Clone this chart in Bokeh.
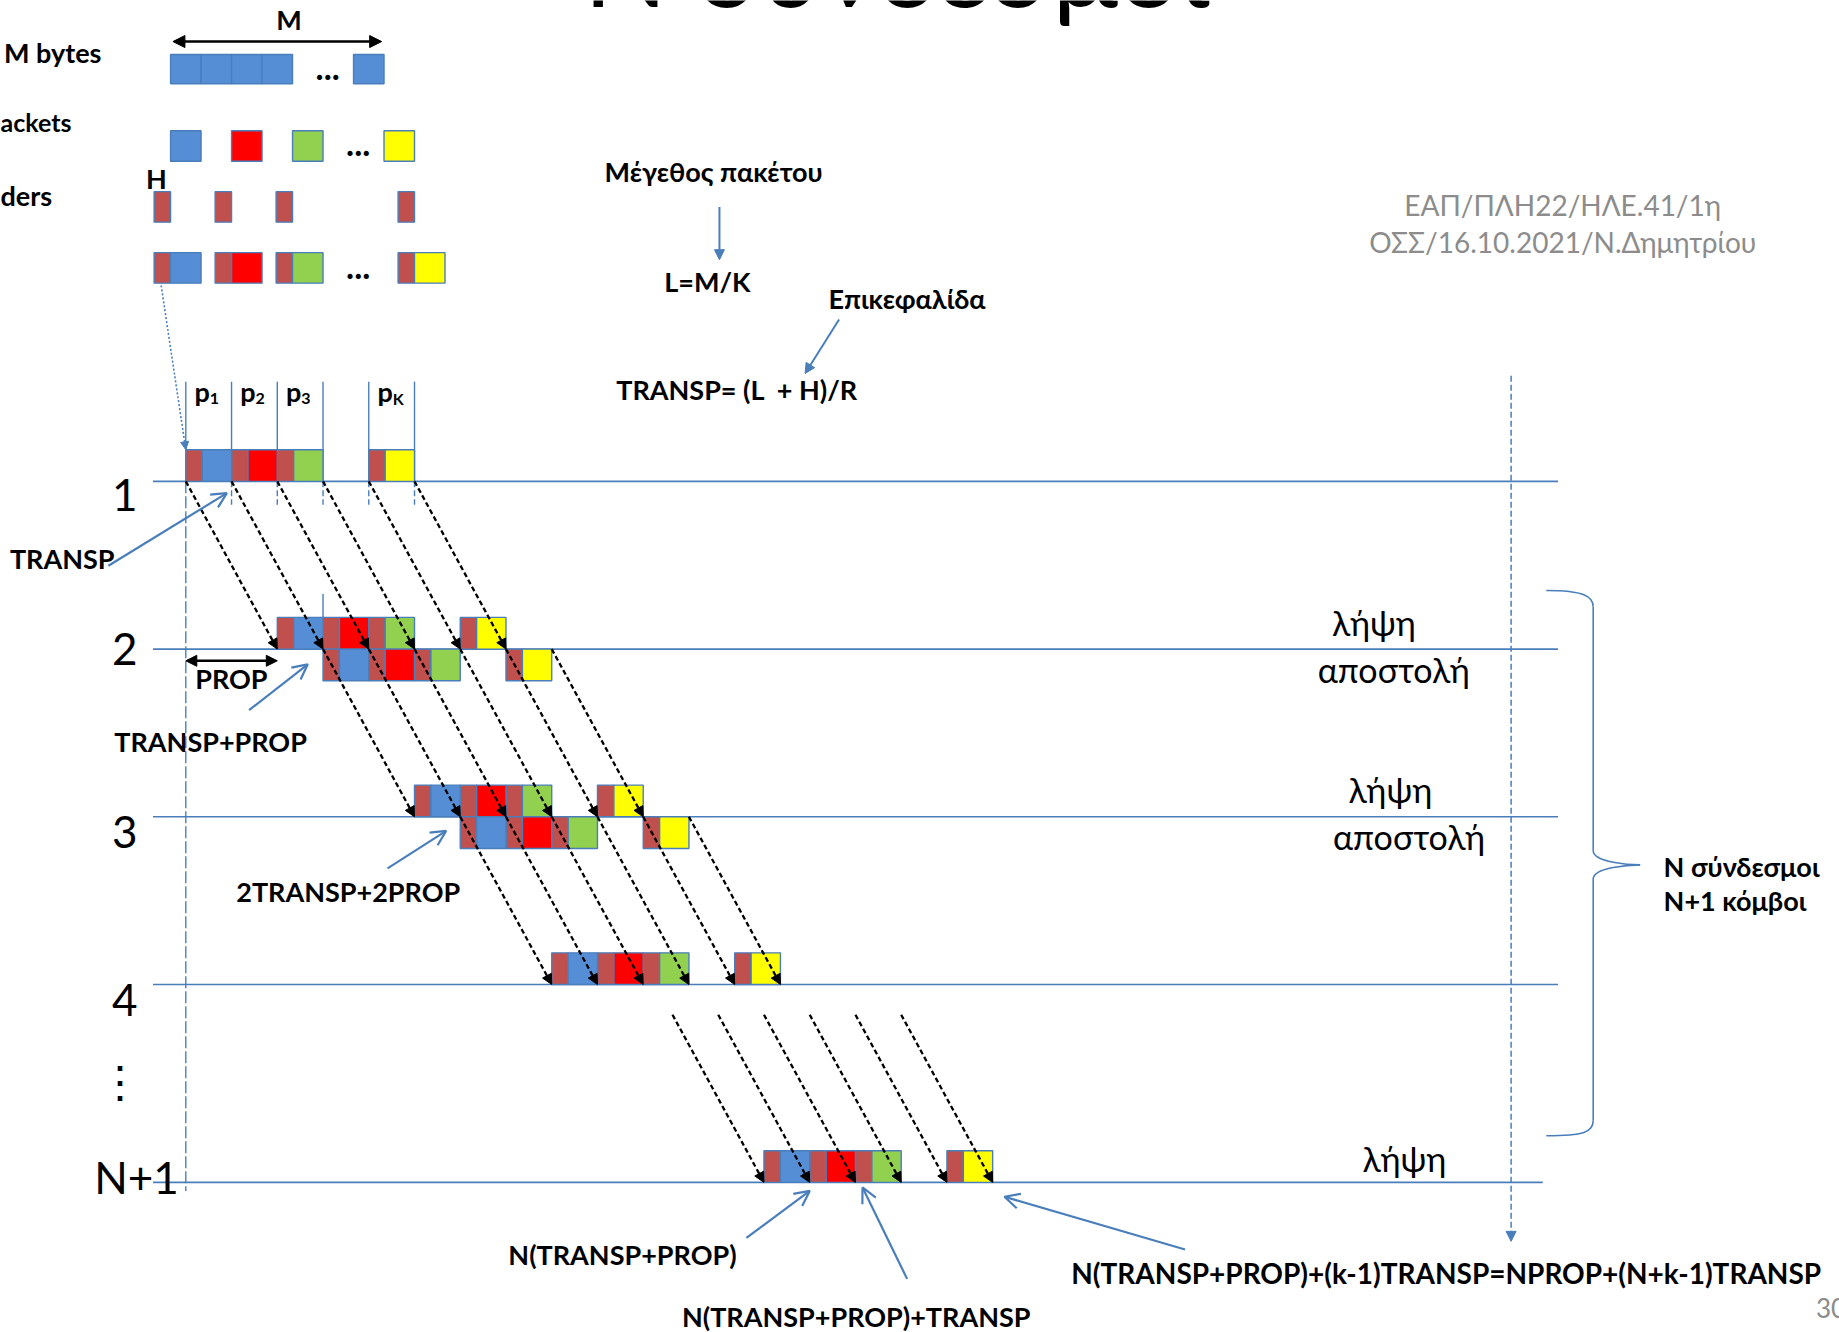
from bokeh.plotting import figure
from bokeh.models import Range1d, ColumnDataSource, Arrow, NormalHead, OpenHead, Label
from bokeh.core.properties import value
from bokeh.embed import file_html
from bokeh.resources import INLINE

# ---------------- data (logical values) ----------------
# colours of the K packets and of their header
packet_colors = ["#558ED5", "#FF0000", "#92D050", "#FFFF00"]
header_color = "#C0504D"
# slot (in TRANSP units) occupied by p1, p2, p3, pK on every link
packet_slots = [0, 1, 2, 4]
packet_names = ["1", "2", "3", "K"]
# rows of received / transmitted packets: node row, start time (TRANSP units), side of the line
row_node = [0, 1, 1, 2, 2, 3, 4.18]
row_start = [0, 2, 3, 5, 6, 8, 12.64]
row_side = [1, 1, -1, 1, -1, 1, 1]          # 1 = above line, -1 = below
# propagation arrows: from (row, time) to (row, time + PROP)
hop_from_row = [0, 1, 2, 3.18]
hop_to_row = [1, 2, 3, 4.18]
hop_start = [0, 3, 6, 10.64]
hop_boundaries = [0, 1, 2, 3, 4, 5]
PROP_UNITS = 2
# node lines and labels
node_rows = [0, 1, 2, 3, 4.18]
node_labels = ["1", "2", "3", "4", "⋮", "N+1"]
node_label_rows = [0.08, 1.0, 2.09, 3.09, 3.57, 4.15]
# top-left illustration (cell indices)
msg_cells = [0, 1, 2, 3, 6]
pkt_cells = [0, 2, 4, 7]
comb_cells = [0, 2, 4, 8]
# right side labels
rx_tx_labels = ["λήψη", "αποστολή", "λήψη", "αποστολή", "λήψη"]
title_text = "Ν σύνδεσμοι"
ref_lines = ["ΕΑΠ/ΠΛΗ22/ΗΛΕ.41/1η", "ΟΣΣ/16.10.2021/Ν.Δημητρίου"]
annotations = ["TRANSP", "TRANSP+PROP", "2TRANSP+2PROP", "N(TRANSP+PROP)",
               "N(TRANSP+PROP)+TRANSP"]
long_formula = "N(TRANSP+PROP)+(k-1)TRANSP=NPROP+(N+k-1)TRANSP"

# ---------------- geometry helpers (display units of the slide) ----------------
S = 1839 / 1568
W, H = 1839, 1332
X0, TW, HW = 158, 39, 14          # time origin, TRANSP width, header width
Y0, RP, BH = 410, 143, 27         # first node line, node pitch, box height
CX0, CW = 145, 26                  # illustration cell origin / width

def tx(u):
    return X0 + TW * u

def ry(r):
    return Y0 + RP * r

BLUE = "#4A7EBB"
FONT = value("Lato")
BS = 27  # bold label size

p = figure(width=W, height=H, x_range=Range1d(0, W / S),
           y_range=Range1d(H / S, 0), output_backend="svg",
           toolbar_location=None, min_border=0,
           x_axis_location=None, y_axis_location=None)
p.grid.visible = False
p.outline_line_color = None
p.background_fill_color = "white"


def text(xs, ys, ts, size, bold=True, color="black", align="left", baseline="middle"):
    p.text(x=xs, y=ys, text=ts, text_font=FONT, text_font_size=f"{size}px",
           text_font_style="bold" if bold else "normal", text_color=color,
           text_align=align, text_baseline=baseline)


def boxes(l, r, t, b, c):
    p.quad(left=l, right=r, top=t, bottom=b, fill_color=c, line_color=BLUE, line_width=1.4)


def arrows(xs, ys, xe, ye, color, width, dash="solid", head="normal", hsize=9, both=False):
    src = ColumnDataSource(dict(xs=xs, ys=ys, xe=xe, ye=ye))
    def mk():
        if head == "open":
            return OpenHead(size=hsize, line_color=color, line_width=width)
        return NormalHead(size=hsize, fill_color=color, line_color=color, line_width=1)
    p.add_layout(Arrow(x_start="xs", y_start="ys", x_end="xe", y_end="ye", source=src,
                       line_color=color, line_width=width, line_dash=dash,
                       end=mk(), start=mk() if both else None))

# ---------------- title (mostly outside the slide crop) ----------------
p.add_layout(Label(x=497, y=-31, text=title_text, text_font="Lato", text_font_size="110px",
                   text_baseline="middle", text_align="left", text_color="black"))

# ---------------- top-left illustration ----------------
text([246], [16], ["M"], BS, align="center")
arrows([147], [35], [325], [35], "black", 2.5, hsize=12, both=True)
text([3], [44], ["M bytes"], BS)
boxes([CX0 + CW * i for i in msg_cells], [CX0 + CW * (i + 1) for i in msg_cells],
      [46] * 5, [71] * 5, [packet_colors[0]] * 5)
text([279, 305, 305], [57, 122, 227], ["...", "...", "..."], 34, align="center")
text([0], [104], ["ackets"], 25)
boxes([CX0 + CW * i for i in pkt_cells], [CX0 + CW * (i + 1) for i in pkt_cells],
      [111] * 4, [137] * 4, packet_colors)
text([133], [152], ["H"], BS, align="center")
text([0], [166], ["ders"], BS)
boxes([CX0 + CW * i - HW for i in comb_cells], [CX0 + CW * i for i in comb_cells],
      [163] * 4, [189] * 4, [header_color] * 4)
boxes([CX0 + CW * i - HW for i in comb_cells], [CX0 + CW * i for i in comb_cells],
      [215] * 4, [241] * 4, [header_color] * 4)
boxes([CX0 + CW * i for i in comb_cells], [CX0 + CW * (i + 1) for i in comb_cells],
      [215] * 4, [241] * 4, packet_colors)
arrows([137], [243], [158], [383], BLUE, 1.6, dash="2 2", hsize=8)

# ---------------- middle formulas ----------------
text([515], [146], ["Μέγεθος πακέτου"], BS)
arrows([613], [176], [613], [221], BLUE, 2, hsize=10)
text([566], [240], ["L=M/K"], BS)
text([706], [254], ["Επικεφαλίδα"], BS)
arrows([715], [272], [686], [318], BLUE, 2, hsize=10)
text([525], [332], ["TRANSP=\u00a0(L\u00a0\u00a0+\u00a0H)/R"], BS)
text([1332, 1332], [174, 206], ref_lines, 28, bold=False, color="#8C8C8C", align="center")

# ---------------- node lines ----------------
p.segment(x0=[130] * 5, y0=[ry(r) for r in node_rows],
          x1=[1328, 1328, 1328, 1328, 1315], y1=[ry(r) for r in node_rows],
          line_color=BLUE, line_width=1.6)
text([106, 106, 106, 106, 102, 116], [ry(r) for r in node_label_rows], node_labels, 44,
     bold=False, align="center")

# packet boundary markers on node 1
bnd = [tx(b) for b in hop_boundaries]
p.segment(x0=bnd, y0=[325] * 6, x1=bnd, y1=[ry(0)] * 6, line_color=BLUE, line_width=1.4)
p.segment(x0=bnd[1:], y0=[ry(0)] * 5, x1=bnd[1:], y1=[ry(0) + 20] * 5,
          line_color=BLUE, line_width=1.4, line_dash="6 3")
p.segment(x0=[tx(0)], y0=[ry(0)], x1=[tx(0)], y1=[1015], line_color=BLUE,
          line_width=1.4, line_dash="12 3")
p.segment(x0=[tx(3)], y0=[ry(1) - 47], x1=[tx(3)], y1=[ry(1) - BH], line_color=BLUE, line_width=1.4)

# p labels
mids = [tx(s + 0.5) + 1 for s in packet_slots]
text(mids, [333] * 4, ["p"] * 4, BS, align="right")
text(mids, [339] * 4, packet_names, 16, align="left")

# ---------------- packet rows ----------------
for n, u0, sd in zip(row_node, row_start, row_side):
    base = ry(n)
    top, bot = (base - BH, base) if sd == 1 else (base, base + BH)
    ls = [tx(u0 + s) for s in packet_slots]
    boxes(ls, [x + HW for x in ls], [top] * 4, [bot] * 4, [header_color] * 4)
    boxes([x + HW for x in ls], [x + TW for x in ls], [top] * 4, [bot] * 4, packet_colors)

# ---------------- propagation arrows ----------------
xs, ys, xe, ye = [], [], [], []
for rf, rt, us in zip(hop_from_row, hop_to_row, hop_start):
    for b in hop_boundaries:
        xs.append(tx(us + b)); ys.append(ry(rf))
        xe.append(tx(us + b + PROP_UNITS)); ye.append(ry(rt))
arrows(xs, ys, xe, ye, "black", 2.3, dash="5 3", hsize=10)

# PROP dimension
arrows([tx(0)], [563], [tx(PROP_UNITS)], [563], "black", 2.6, hsize=11, both=True)
text([166], [578], ["PROP"], BS)

# annotation arrows
arrows([92, 212, 330, 636, 773, 1010], [482, 605, 740, 1055, 1090, 1065],
       [193, 262, 380, 690, 735, 856], [420, 566, 708, 1015, 1012, 1020],
       BLUE, 2.2, head="open", hsize=15)
text([8, 97, 201, 433, 581], [476, 632, 760, 1069, 1122], annotations, BS)
text([913], [1085], [long_formula], 28)

# right side
text([1171, 1188, 1185, 1201, 1197], [530, 570, 673, 713, 987], rx_tx_labels, 34,
     bold=False, align="center")
arrows([1288], [320], [1288], [1058], BLUE, 1.5, dash="6 3", hsize=10)

# brace
p.bezier(x0=[1318, 1358, 1398, 1358], y0=[503, 725, 737, 955],
         x1=[1358, 1398, 1358, 1318], y1=[517, 737, 749, 968],
         cx0=[1350, 1358, 1390, 1358], cy0=[503, 735, 737, 965],
         cx1=[1358, 1390, 1358, 1350], cy1=[508, 737, 739, 968],
         line_color=BLUE, line_width=1.6)
p.segment(x0=[1358, 1358], y0=[517, 749], x1=[1358, 1358], y1=[725, 955],
          line_color=BLUE, line_width=1.6)
text([1418, 1418], [738, 767], ["N σύνδεσμοι", "N+1 κόμβοι"], BS)
text([1548], [1115], ["30"], 26, bold=False, color="#8C8C8C")

open("out.html", "w").write(file_html(p, INLINE))
